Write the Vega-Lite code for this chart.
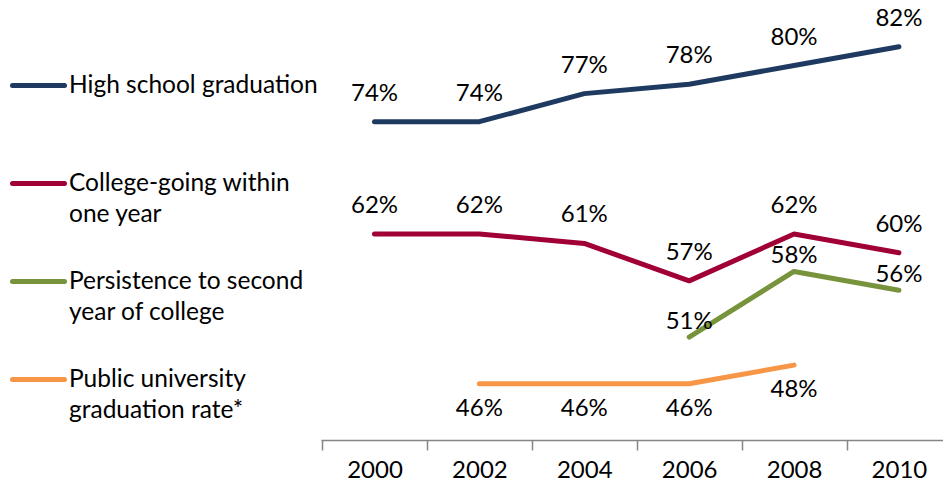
{
  "$schema": "https://vega.github.io/schema/vega-lite/v6.json",
  "width": 622,
  "height": 440,
  "autosize": {"type": "none"},
  "padding": {"left": 321, "top": 0, "right": 0, "bottom": 48},
  "background": "white",
  "config": {"view": {"stroke": null}, "font": "Lato"},
  "data": {
    "values": [
      {"series": "High school graduation", "year": 2000, "value": 0.74},
      {"series": "High school graduation", "year": 2002, "value": 0.74},
      {"series": "High school graduation", "year": 2004, "value": 0.77},
      {"series": "High school graduation", "year": 2006, "value": 0.78},
      {"series": "High school graduation", "year": 2008, "value": 0.80},
      {"series": "High school graduation", "year": 2010, "value": 0.82},
      {"series": "College-going within one year", "year": 2000, "value": 0.62},
      {"series": "College-going within one year", "year": 2002, "value": 0.62},
      {"series": "College-going within one year", "year": 2004, "value": 0.61},
      {"series": "College-going within one year", "year": 2006, "value": 0.57},
      {"series": "College-going within one year", "year": 2008, "value": 0.62},
      {"series": "College-going within one year", "year": 2010, "value": 0.60},
      {"series": "Persistence to second year of college", "year": 2006, "value": 0.51},
      {"series": "Persistence to second year of college", "year": 2008, "value": 0.58},
      {"series": "Persistence to second year of college", "year": 2010, "value": 0.56},
      {"series": "Public university graduation rate*", "year": 2002, "value": 0.46},
      {"series": "Public university graduation rate*", "year": 2004, "value": 0.46},
      {"series": "Public university graduation rate*", "year": 2006, "value": 0.46},
      {"series": "Public university graduation rate*", "year": 2008, "value": 0.48}
    ]
  },
  "encoding": {
    "x": {
      "field": "year",
      "type": "quantitative",
      "scale": {"domain": [1998.98, 2010.84], "nice": false, "zero": false},
      "axis": {
        "title": null,
        "values": [1999, 2000, 2001, 2002, 2003, 2004, 2005, 2006, 2007, 2008, 2009, 2010],
        "format": "d",
        "labelExpr": "datum.value % 2 == 0 ? datum.label : ''",
        "grid": false,
        "domainColor": "#868686",
        "domainWidth": 1.5,
        "tickColor": "#868686",
        "tickWidth": 1.5,
        "tickSize": 10,
        "tickOpacity": {"condition": {"test": "datum.value % 2 == 0", "value": 0}, "value": 1},
        "labelOverlap": false,
        "labelFlush": false,
        "labelBound": false,
        "labelFontSize": 24,
        "labelFont": "Lato",
        "labelColor": "#000000",
        "labelPadding": 8
      }
    },
    "y": {
      "field": "value",
      "type": "quantitative",
      "scale": {"domain": [0.40, 0.87], "nice": false, "zero": false},
      "axis": null
    }
  },
  "layer": [
    {
      "mark": {"type": "line", "strokeWidth": 5, "strokeCap": "round", "strokeJoin": "round"},
      "encoding": {
        "color": {
          "field": "series",
          "type": "nominal",
          "scale": {
            "domain": ["High school graduation", "College-going within one year", "Persistence to second year of college", "Public university graduation rate*"],
            "range": ["#1F3A60", "#A00035", "#77933C", "#F79646"]
          },
          "legend": {
            "orient": "none",
            "legendX": -311,
            "legendY": 57,
            "title": null,
            "direction": "vertical",
            "symbolType": "stroke",
            "symbolSize": 2704,
            "symbolStrokeWidth": 5,
            "labelFontSize": 24.5,
            "labelFont": "Lato",
            "labelColor": "#000000",
            "labelOffset": 2,
            "labelLimit": 400,
            "rowPadding": 27,
            "padding": 0,
            "labelExpr": "datum.label == 'High school graduation' ? ['High school graduation', ''] : datum.label == 'College-going within one year' ? ['College-going within', 'one year'] : datum.label == 'Persistence to second year of college' ? ['Persistence to second', 'year of college'] : ['Public university', 'graduation rate*']",
            "encode": {
              "labels": {"update": {"lineHeight": {"value": 31}}},
              "symbols": {"update": {"strokeCap": {"value": "round"}}}
            }
          }
        }
      }
    },
    {
      "transform": [{"filter": "datum.series == 'High school graduation' || datum.series == 'College-going within one year'"}],
      "mark": {"type": "text", "dy": -28, "fontSize": 24, "font": "Lato", "color": "#000000"},
      "encoding": {"text": {"field": "value", "type": "quantitative", "format": ".0%"}}
    },
    {
      "transform": [{"filter": "datum.series == 'Persistence to second year of college'"}],
      "mark": {"type": "text", "dy": -15, "fontSize": 24, "font": "Lato", "color": "#000000"},
      "encoding": {"text": {"field": "value", "type": "quantitative", "format": ".0%"}}
    },
    {
      "transform": [{"filter": "datum.series == 'Public university graduation rate*'"}],
      "mark": {"type": "text", "dy": 25, "fontSize": 24, "font": "Lato", "color": "#000000"},
      "encoding": {"text": {"field": "value", "type": "quantitative", "format": ".0%"}}
    }
  ]
}
